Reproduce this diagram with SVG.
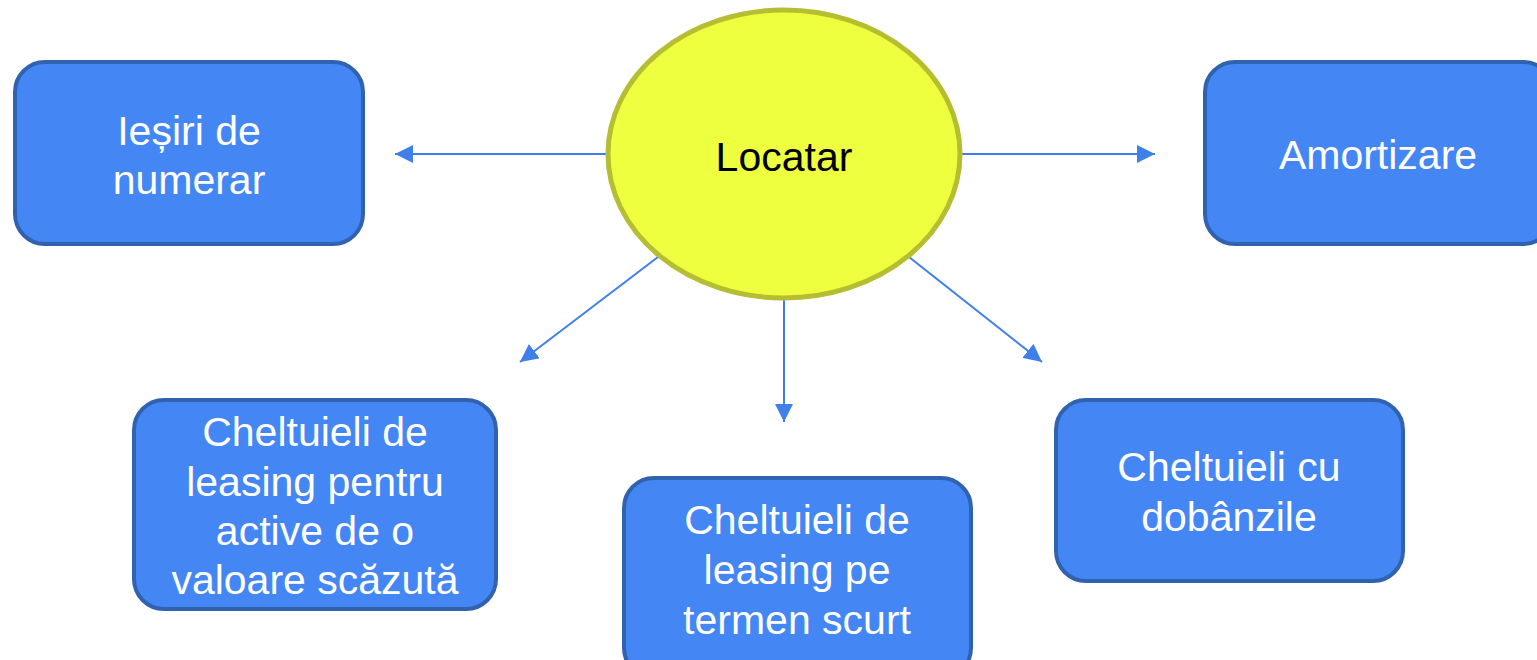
<svg xmlns="http://www.w3.org/2000/svg" width="1537" height="660" viewBox="0 0 1537 660">
<style>
.box{fill:#4487F4;stroke:#3162B0;stroke-width:4}
.lbl{font-family:"Liberation Sans",Arial,sans-serif;font-size:41px;fill:#FFFFFF;text-anchor:middle}
.ctr{font-family:"Liberation Sans",Arial,sans-serif;font-size:41px;fill:#000000;text-anchor:middle}
.con{stroke:#3F7FEA;stroke-width:2;fill:none;marker-end:url(#ah)}
</style>
<defs>
<marker id="ah" viewBox="0 0 10 10" refX="10" refY="5" markerWidth="9" markerHeight="9" markerUnits="strokeWidth" orient="auto">
<path d="M0,0 L10,5 L0,10 z" fill="#3F7FEA"/>
</marker>
</defs>
<rect width="1537" height="660" fill="#FFFFFF"/>
<g id="connectors">
<line class="con" x1="607" y1="154" x2="395" y2="154"/>
<line class="con" x1="961" y1="154" x2="1155" y2="154"/>
<line class="con" x1="784" y1="298" x2="784" y2="422"/>
<line class="con" x1="658" y1="257" x2="520" y2="362"/>
<line class="con" x1="909" y1="257" x2="1042" y2="362"/>
</g>
<g id="locatar">
<ellipse cx="784" cy="154" rx="176" ry="144" fill="#EDFF3F" stroke="#B5BD30" stroke-width="5"/>
<text class="ctr" x="784" y="171">Locatar</text>
</g>
<g id="iesiri">
<rect class="box" x="15" y="62" width="348" height="182" rx="30"/>
<text class="lbl" x="189" y="145">Ieșiri de</text>
<text class="lbl" x="189" y="194">numerar</text>
</g>
<g id="amortizare">
<rect class="box" x="1205" y="62" width="348" height="182" rx="30"/>
<text class="lbl" x="1378" y="169">Amortizare</text>
</g>
<g id="active">
<rect class="box" x="134" y="400" width="362" height="209" rx="30"/>
<text class="lbl" x="315" y="446">Cheltuieli de</text>
<text class="lbl" x="315" y="496">leasing pentru</text>
<text class="lbl" x="315" y="545">active de o</text>
<text class="lbl" x="315" y="594">valoare scăzută</text>
</g>
<g id="termen">
<rect class="box" x="624" y="478" width="347" height="200" rx="30"/>
<text class="lbl" x="797" y="534">Cheltuieli de</text>
<text class="lbl" x="797" y="584">leasing pe</text>
<text class="lbl" x="797" y="634">termen scurt</text>
</g>
<g id="dobanzi">
<rect class="box" x="1056" y="400" width="347" height="181" rx="30"/>
<text class="lbl" x="1229" y="481">Cheltuieli cu</text>
<text class="lbl" x="1229" y="531">dobânzile</text>
</g>
</svg>
